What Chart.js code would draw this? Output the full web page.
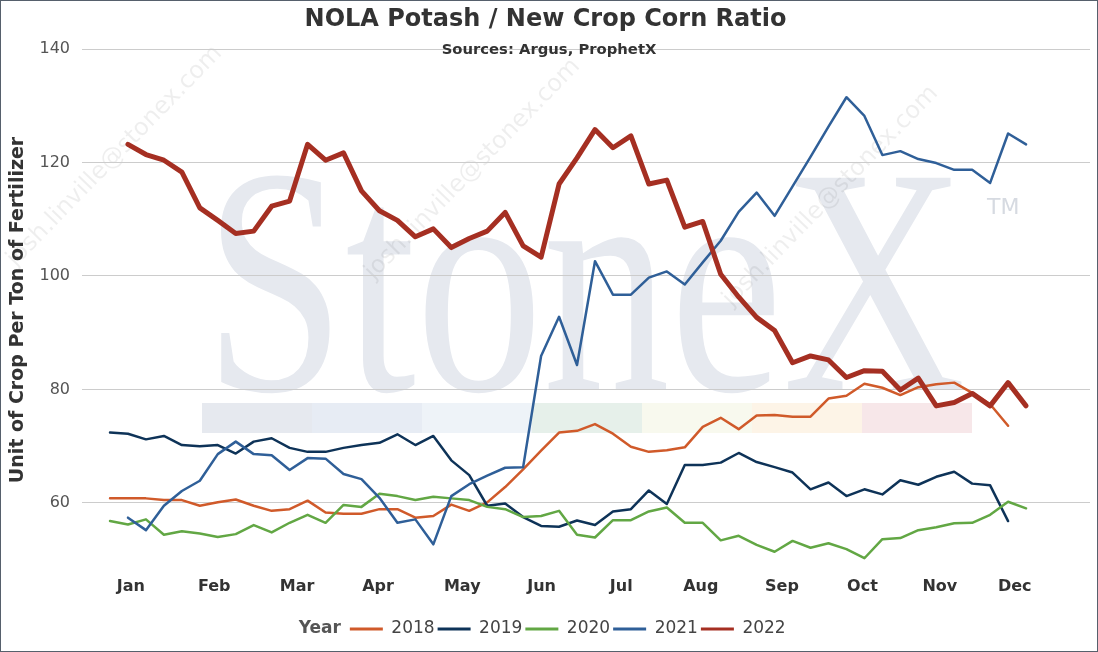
<!DOCTYPE html>
<html><head><meta charset="utf-8">
<script src="https://cdn.jsdelivr.net/npm/chart.js@4.4.0/dist/chart.umd.min.js"></script>
<style>
html,body{margin:0;padding:0;background:#fff;}
#wrap{width:1096px;height:650px;border:1px solid #56606c;position:relative;background:#fff;}
canvas{display:block;}
</style></head><body>
<div id="wrap"><canvas id="c" width="1096" height="650"></canvas></div>
<script>
// ---- data ----
const monthLabels = ['Jan','Feb','Mar','Apr','May','Jun','Jul','Aug','Sep','Oct','Nov','Dec'];
const monthTicks = [0.16, 4.80, 9.42, 13.92, 18.61, 23.03, 27.46, 31.89, 36.41, 40.89, 45.20, 49.37]; // week units
const yTicks = [60, 80, 100, 120, 140];
const years = ['2018', '2019', '2020', '2021', '2022'];

const start2018 = -1;
const v2018 = [60.8,60.8,60.8,60.5,60.5,59.5,60.1,60.6,59.5,58.6,58.9,60.4,58.3,58.1,58.1,58.9,58.9,57.4,57.7,59.7,58.6,60.1,62.8,65.9,69.2,72.4,72.7,73.9,72.2,69.9,69.0,69.3,69.8,73.4,75.0,73.0,75.4,75.5,75.2,75.2,78.4,78.9,81.0,80.3,79.0,80.4,80.9,81.2,79.4,77.4,73.6];

const start2019 = -1;
const v2019 = [72.4,72.2,71.2,71.8,70.2,70.0,70.2,68.7,70.8,71.4,69.7,69.0,69.0,69.7,70.2,70.6,72.1,70.2,71.8,67.5,64.9,59.5,59.9,57.5,55.95,55.8,56.9,56.1,58.5,58.9,62.2,59.8,66.7,66.7,67.1,68.8,67.2,66.3,65.35,62.4,63.6,61.2,62.4,61.5,64.0,63.2,64.6,65.5,63.4,63.1,56.8];

const start2020 = -1;
const v2020 = [56.8,56.2,57.1,54.4,55.0,54.6,54.0,54.5,56.1,54.8,56.5,57.9,56.5,59.65,59.3,61.6,61.2,60.5,61.1,60.8,60.5,59.3,58.9,57.5,57.7,58.6,54.4,53.9,56.95,56.95,58.5,59.2,56.5,56.5,53.4,54.2,52.6,51.4,53.3,52.1,52.9,51.85,50.25,53.6,53.8,55.2,55.7,56.4,56.5,57.9,60.2,59.05];

const start2021 = 0;
const v2021 = [57.4,55.2,59.5,62.1,63.9,68.6,70.8,68.6,68.4,65.8,67.9,67.8,65.1,64.2,60.9,56.5,57.1,52.7,61.2,63.3,64.8,66.2,66.3,85.9,92.8,84.3,102.6,96.7,96.7,99.7,100.8,98.5,102.4,106.2,111.3,114.7,110.6,115.8,121.0,126.3,131.5,128.2,121.3,122.0,120.6,119.9,118.7,118.7,116.4,125.1,123.2];

const start2022 = 0;
const v2022 = [123.2,121.4,120.4,118.3,112.0,109.8,107.5,107.9,112.3,113.2,123.2,120.4,121.7,115.0,111.5,109.8,106.9,108.3,105.0,106.6,107.9,111.2,105.3,103.3,116.2,120.8,125.8,122.6,124.7,116.2,116.9,108.6,109.6,100.3,96.3,92.7,90.4,84.7,85.9,85.2,82.1,83.3,83.2,79.9,82.0,77.1,77.7,79.3,77.1,81.2,77.1];

// ---- styles ----
const seriesColors = ['#D05A2A', '#0E3358', '#62A744', '#2F5F98', '#A52F22'];
const seriesWidths = [2.5, 2.5, 2.5, 2.5, 5];
const seriesOrder = [4, 3, 2, 1, 0];
const FONT = '"DejaVu Sans", Verdana, sans-serif';

function pts(start, vals) { return vals.map((v, i) => ({ x: start + i, y: v })); }
const seriesData = [pts(start2018, v2018), pts(start2019, v2019), pts(start2020, v2020), pts(start2021, v2021), pts(start2022, v2022)];

const datasets = years.map((y, i) => ({
  label: y,
  data: seriesData[i],
  borderColor: seriesColors[i],
  backgroundColor: seriesColors[i],
  borderWidth: seriesWidths[i],
  pointRadius: 0,
  tension: 0,
  fill: false,
  borderJoinStyle: 'round',
  borderCapStyle: 'round',
  order: seriesOrder[i]
}));

const decoPlugin = {
  id: 'deco',
  beforeDraw(chart) {
    const ctx = chart.ctx;
    ctx.save();
    // watermark colour bands
    const bandColors = ['#E6E9EF', '#E7ECF4', '#EEF3F8', '#E6F0EA', '#F8F9EE', '#FDF4E7', '#F7E7E9'];
    bandColors.forEach((c, i) => { ctx.fillStyle = c; ctx.fillRect(201 + 110 * i, 402, 110, 30); });
    // StoneX logo watermark
    ctx.save();
    ctx.font = '300px "Liberation Serif", serif';
    const w = ctx.measureText('StoneX').width;
    ctx.translate(203, 389);
    ctx.scale(762 / w, 1.08);
    ctx.fillStyle = '#E6E9EF';
    ctx.textBaseline = 'alphabetic';
    ctx.fillText('StoneX', 0, 0);
    ctx.restore();
    ctx.font = '22px ' + FONT;
    ctx.fillStyle = '#D6DAE1';
    ctx.fillText('TM', 986, 207);
    // email watermark
    ctx.font = '24px ' + FONT;
    ctx.fillStyle = 'rgba(0,0,0,0.065)';
    [[10, 262], [368, 275], [726, 302]].forEach(([x, y]) => {
      ctx.save(); ctx.translate(x, y); ctx.rotate(-0.80);
      ctx.fillText('josh.linville@stonex.com', 0, 0); ctx.restore();
    });
    ctx.restore();
  },
  afterDraw(chart) {
    const ctx = chart.ctx;
    ctx.save();
    // subtitle
    ctx.font = 'bold 14.8px ' + FONT;
    ctx.fillStyle = '#333333';
    ctx.textAlign = 'center';
    ctx.textBaseline = 'middle';
    ctx.fillText('Sources: Argus, ProphetX', chart.width / 2, chart.chartArea.top + 1);
    // legend title "Year"
    const lg = chart.legend;
    if (lg && lg.legendHitBoxes && lg.legendHitBoxes[1]) {
      const hb = lg.legendHitBoxes[1];
      ctx.font = 'bold 17px ' + FONT;
      ctx.fillStyle = '#555555';
      ctx.textAlign = 'right';
      ctx.fillText('Year', hb.left - 9, hb.top + hb.height / 2);
    }
    ctx.restore();
  }
};

new Chart(document.getElementById('c'), {
  type: 'line',
  data: { datasets },
  plugins: [decoPlugin],
  options: {
    responsive: false,
    animation: false,
    devicePixelRatio: 1,
    layout: { padding: { left: 0, right: 7, top: 0, bottom: 3.5 } },
    scales: {
      x: {
        type: 'linear',
        min: -2.56,
        max: 53.56,
        grid: { display: false },
        border: { display: false },
        afterBuildTicks: (s) => { s.ticks = monthTicks.map(v => ({ value: v })); },
        afterFit: (s) => { s.height = 46.5; },
        ticks: {
          autoSkip: false,
          maxRotation: 0,
          padding: -2,
          color: '#333333',
          font: { family: FONT, size: 16, weight: 'bold' },
          callback: (v, i) => monthLabels[i]
        }
      },
      y: {
        min: 48,
        max: 140,
        afterBuildTicks: (s) => { s.ticks = yTicks.map(v => ({ value: v })); },
        afterFit: (s) => { s.width = 81; },
        grid: { color: '#CCCCCC', drawTicks: false, lineWidth: 1 },
        border: { display: false },
        ticks: { padding: 12, color: '#555555', font: { family: FONT, size: 16 } },
        title: {
          display: true,
          text: 'Unit of Crop Per Ton of Fertilizer',
          color: '#333333',
          font: { family: FONT, size: 19, weight: 'bold' },
          padding: { top: 5.5, bottom: 0 }
        }
      }
    },
    plugins: {
      title: {
        display: true,
        text: 'NOLA Potash / New Crop Corn Ratio',
        color: '#333333',
        font: { family: FONT, size: 24, weight: 'bold' },
        padding: { top: 4.6, bottom: 14.6 }
      },
      tooltip: { enabled: false },
      legend: {
        position: 'bottom',
        onClick: null,
        labels: {
          boxWidth: 33,
          boxHeight: 3,
          padding: 3,
          color: '#444444',
          font: { family: FONT, size: 17 },
          generateLabels: (chart) => {
            const items = [{ text: '', fillStyle: 'transparent', strokeStyle: 'transparent', lineWidth: 0, fontColor: 'transparent', hidden: false, datasetIndex: 0 }];
            chart.data.datasets.forEach((d, i) => items.push({
              text: d.label, fillStyle: d.borderColor, strokeStyle: d.borderColor, lineWidth: 0,
              fontColor: '#444444', hidden: false, datasetIndex: i
            }));
            return items;
          }
        }
      }
    }
  }
});
</script>
</body></html>
